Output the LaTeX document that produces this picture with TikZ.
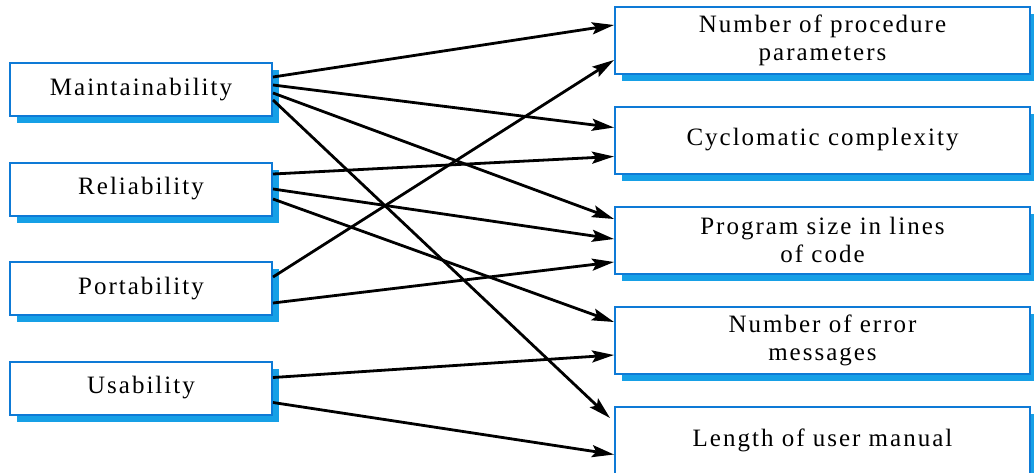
\documentclass[tikz,border=0pt]{standalone}
\usepackage{fontspec}
\setmainfont{Liberation Serif}[LetterSpace=8]
\usepackage{xcolor}
\usetikzlibrary{arrows.meta,positioning,shadows}
\definecolor{boxblue}{RGB}{14,122,214}
\definecolor{shade}{RGB}{22,160,230}

\begin{document}
\begin{tikzpicture}[x=1pt, y=-1pt,
  font=\fontsize{25}{28}\selectfont,
  attr/.style={draw=boxblue, line width=2pt, fill=white, align=center, inner sep=0pt,
    minimum width=262pt, minimum height=53pt,
    drop shadow={shadow xshift=7pt, shadow yshift=-7pt, fill=shade, opacity=1}},
  metric/.style={attr, minimum width=415pt, minimum height=67pt},
  arr/.style={-{Stealth[length=22pt, width=12pt, inset=4pt]}, line width=2.8pt, black},
]
\useasboundingbox (0,0) rectangle (1034,472);
% quality attributes
\node[attr] (maint) at (141,89.5) {Maintainability};
\node[attr, below=44.5pt of maint] (rel) {Reliability};
\node[attr, below=44.5pt of rel] (port) {Portability};
\node[attr, below=44.5pt of port] (usab) {Usability};
% measurable metrics
\node[metric] (npp) at (822.5,40) {Number of procedure\\parameters};
\node[metric, below=31pt of npp] (cyc) {Cyclomatic complexity};
\node[metric, below=31pt of cyc] (size) {Program size in lines\\of code};
\node[metric, below=31pt of size] (err) {Number of error\\messages};
\node[metric, below=31pt of err] (man) {Length of user manual};
% relations
\draw[arr] ([yshift=12.5pt]maint.east) -- ([yshift=15pt]npp.west);
\draw[arr] ([yshift=4.5pt]maint.east) -- ([yshift=12.5pt]cyc.west);
\draw[arr] ([yshift=-3.5pt]maint.east) -- ([yshift=21pt]size.west);
\draw[arr] ([yshift=-10.5pt]maint.east) -- ([xshift=-4pt,yshift=22pt]man.west);
\draw[arr] ([yshift=15pt]rel.east) -- ([yshift=-16.5pt]cyc.west);
\draw[arr] (rel.east) -- ([yshift=1pt]size.west);
\draw[arr] ([yshift=-10pt]rel.east) -- ([yshift=18pt]err.west);
\draw[arr] ([yshift=11.5pt]port.east) -- ([yshift=-20pt]npp.west);
\draw[arr] ([yshift=-14.5pt]port.east) -- ([yshift=-22pt]size.west);
\draw[arr] ([yshift=10.5pt]usab.east) -- ([yshift=-15pt]err.west);
\draw[arr] ([yshift=-14.5pt]usab.east) -- ([yshift=-14.5pt]man.west);
\end{tikzpicture}
\end{document}
